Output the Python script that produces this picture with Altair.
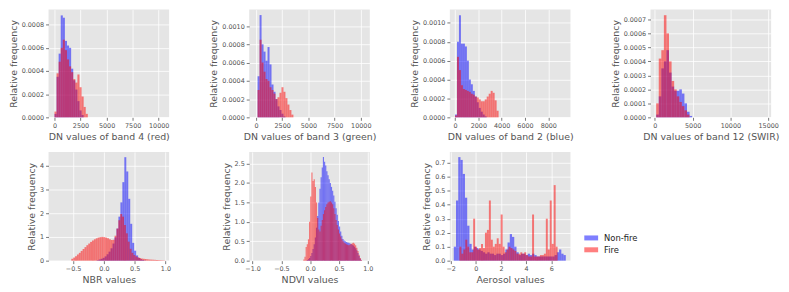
import altair as alt
import pandas as pd

SERIES = ["Non-fire", "Fire"]
COLORS = ["#0000ff", "#ff0000"]

# ---- band 4 (red) ----
B4_START, B4_WIDTH = 0, 200
b4_nonfire = [0.00003, 0.00035, 0.00055, 0.00088, 0.00086, 0.00066, 0.00062, 0.00060,
              0.00042, 0.00032, 0.00024, 0.00014, 0.00006, 0.00002]
b4_fire = [0.00005, 0.00038, 0.00048, 0.00060, 0.00067, 0.00058, 0.00050, 0.00044,
           0.00039, 0.00033, 0.00030, 0.00037, 0.00026, 0.00018, 0.00009, 0.00003]

# ---- band 3 (green) ----
B3_START, B3_WIDTH = 150, 190
b3_nonfire = [0.00045, 0.00112, 0.00080, 0.00072, 0.00062, 0.00077, 0.00058, 0.00036,
              0.00028, 0.00020, 0.00012, 0.00008, 0.00004, 0.00001]
b3_fire = [0.00030, 0.00085, 0.00060, 0.00050, 0.00042, 0.00040, 0.00033, 0.00030,
           0.00026, 0.00020, 0.00022, 0.00027, 0.00033, 0.00028, 0.00021, 0.00014,
           0.00008, 0.00003]

# ---- band 2 (blue) ----
B2_START, B2_WIDTH = 0, 170
b2_nonfire = [0.00003, 0.00080, 0.00108, 0.00078, 0.00078, 0.00075, 0.00060, 0.00040,
              0.00035, 0.00028, 0.00022, 0.00016, 0.00010, 0.00006, 0.00003, 0.00001]
b2_fire = [0.00002, 0.00064, 0.00050, 0.00034, 0.00030, 0.00029, 0.00028, 0.00027,
           0.00025, 0.00024, 0.00022, 0.00021, 0.00019, 0.00017, 0.00017, 0.00019,
           0.00022, 0.00025, 0.00028, 0.00026, 0.00018, 0.00007]

# ---- band 12 (SWIR) ----
B12_START, B12_WIDTH = 170, 340
b12_nonfire = [0.00002, 0.00015, 0.00035, 0.00040, 0.00048, 0.00032, 0.00022, 0.00019,
               0.00019, 0.00020, 0.00017, 0.00010, 0.00004, 0.00001]
b12_fire = [0.00010, 0.00042, 0.00048, 0.00073, 0.00060, 0.00040, 0.00026, 0.00020,
            0.00015, 0.00011, 0.00008, 0.00005, 0.00002]

# ---- NBR ----
NBR_NF_START, NBR_NF_WIDTH = -0.116, 0.032
nbr_nonfire = [0.02, 0.05, 0.08, 0.12, 0.18, 0.27, 0.38, 0.52, 0.72, 0.98, 1.35, 1.85,
               2.45, 3.3, 4.35, 3.75, 2.6, 1.55, 0.75, 0.42, 0.22, 0.12, 0.06, 0.03, 0.01]
NBR_F_START, NBR_F_WIDTH = -0.53, 0.0306
nbr_fire = [0.08, 0.13, 0.19, 0.26, 0.33, 0.41, 0.49, 0.57, 0.65, 0.72, 0.79, 0.85,
            0.90, 0.94, 0.97, 0.99, 1.00, 0.99, 0.97, 0.94, 0.90, 0.87, 0.88, 1.05,
            1.35, 1.70, 1.96, 1.85, 1.50, 1.15, 0.80, 0.50, 0.33, 0.24, 0.18, 0.14,
            0.11, 0.09, 0.08, 0.07, 0.06, 0.05, 0.045, 0.04, 0.035, 0.03, 0.025, 0.02,
            0.015, 0.01]

# ---- NDVI ----
NDVI_NF_START, NDVI_NF_WIDTH = -0.06, 0.02
ndvi_nonfire = [0.02, 0.04, 0.07, 0.12, 0.20, 0.30, 0.42, 0.60, 0.85, 1.15, 1.50, 1.85,
                2.15, 2.40, 2.67, 2.55, 2.45, 2.30, 2.20, 2.10, 2.00, 1.90, 1.80, 1.68,
                1.52, 1.35, 1.18, 1.02, 0.88, 0.75, 0.64, 0.56, 0.52, 0.50, 0.48, 0.47,
                0.46, 0.45, 0.43, 0.41, 0.39, 0.36, 0.32, 0.27, 0.20, 0.12, 0.05, 0.01]
NDVI_F_START, NDVI_F_WIDTH = -0.12, 0.02
ndvi_fire = [0.03, 0.10, 0.35, 0.42, 0.55, 1.00, 1.65, 2.27, 2.05, 2.10, 1.90, 1.50,
             1.10, 0.80, 0.75, 0.90, 1.05, 1.20, 1.30, 1.38, 1.45, 1.50, 1.52, 1.53,
             1.50, 1.45, 1.35, 1.20, 1.05, 0.92, 0.80, 0.70, 0.62, 0.55, 0.50, 0.46,
             0.44, 0.42, 0.41, 0.40, 0.41, 0.43, 0.45, 0.46, 0.44, 0.40, 0.33, 0.25,
             0.15, 0.07, 0.02]

# ---- Aerosol ----
AER_NF_START, AER_NF_WIDTH = -1.75, 0.178
aer_nonfire = [0.10, 0.43, 0.74, 0.72, 0.62, 0.45, 0.25, 0.12, 0.08, 0.10, 0.09, 0.08,
               0.07, 0.06, 0.05, 0.06, 0.05, 0.05, 0.04, 0.05, 0.05, 0.04, 0.05, 0.08,
               0.13, 0.19, 0.17, 0.10, 0.06, 0.04, 0.05, 0.05, 0.04, 0.05, 0.04, 0.05,
               0.04, 0.03, 0.03, 0.03, 0.03, 0.03, 0.03, 0.03, 0.03, 0.04, 0.06, 0.08,
               0.05, 0.04]
AER_F_START, AER_F_WIDTH = -1.3, 0.156
aer_fire = [0.10, 0.05, 0.08, 0.15, 0.10, 0.06, 0.06, 0.30, 0.10, 0.08, 0.09, 0.12,
            0.09, 0.20, 0.22, 0.43, 0.15, 0.10, 0.12, 0.16, 0.12, 0.33, 0.10, 0.06,
            0.08, 0.10, 0.09, 0.08, 0.07, 0.05, 0.05, 0.06, 0.05, 0.06, 0.04, 0.03,
            0.03, 0.33, 0.03, 0.03, 0.03, 0.04, 0.04, 0.05, 0.30, 0.08, 0.43, 0.12,
            0.54, 0.10]

PANELS = [
    dict(title="DN values of band 4 (red)",
         nf=(B4_START, B4_WIDTH, b4_nonfire), f=(B4_START, B4_WIDTH, b4_fire),
         xdom=[-570, 11000], xticks=[0, 2500, 5000, 7500, 10000], xfmt="d",
         ydom=[0, 0.00093], yticks=[0, 0.0002, 0.0004, 0.0006, 0.0008], yfmt=".4f", h=109),
    dict(title="DN values of band 3 (green)",
         nf=(B3_START, B3_WIDTH, b3_nonfire), f=(B3_START, B3_WIDTH, b3_fire),
         xdom=[-650, 10860], xticks=[0, 2500, 5000, 7500, 10000], xfmt="d",
         ydom=[0, 0.00118], yticks=[0, 0.0002, 0.0004, 0.0006, 0.0008, 0.0010], yfmt=".4f", h=109),
    dict(title="DN values of band 2 (blue)",
         nf=(B2_START, B2_WIDTH, b2_nonfire), f=(B2_START, B2_WIDTH, b2_fire),
         xdom=[-440, 9900], xticks=[0, 2000, 4000, 6000, 8000], xfmt="d",
         ydom=[0, 0.00114], yticks=[0, 0.0002, 0.0004, 0.0006, 0.0008, 0.0010], yfmt=".4f", h=109),
    dict(title="DN values of band 12 (SWIR)",
         nf=(B12_START, B12_WIDTH, b12_nonfire), f=(B12_START, B12_WIDTH, b12_fire),
         xdom=[-580, 15390], xticks=[0, 5000, 10000, 15000], xfmt="d",
         ydom=[0, 0.00077], yticks=[0, 0.0001, 0.0002, 0.0003, 0.0004, 0.0005, 0.0006, 0.0007],
         yfmt=".4f", h=109),
    dict(title="NBR values",
         nf=(NBR_NF_START, NBR_NF_WIDTH, nbr_nonfire), f=(NBR_F_START, NBR_F_WIDTH, nbr_fire),
         xdom=[-0.90, 1.06], xticks=[-0.5, 0.0, 0.5, 1.0], xfmt=".1f",
         ydom=[0, 4.57], yticks=[0, 1, 2, 3, 4], yfmt="d", h=110),
    dict(title="NDVI values",
         nf=(NDVI_NF_START, NDVI_NF_WIDTH, ndvi_nonfire), f=(NDVI_F_START, NDVI_F_WIDTH, ndvi_fire),
         xdom=[-1.06, 1.035], xticks=[-1.0, -0.5, 0.0, 0.5, 1.0], xfmt=".1f",
         ydom=[0, 2.80], yticks=[0, 0.5, 1.0, 1.5, 2.0, 2.5], yfmt=".1f", h=110),
    dict(title="Aerosol values",
         nf=(AER_NF_START, AER_NF_WIDTH, aer_nonfire), f=(AER_F_START, AER_F_WIDTH, aer_fire),
         xdom=[-2.06, 7.52], xticks=[-2, 0, 2, 4, 6], xfmt="d",
         ydom=[0, 0.777], yticks=[0, 0.1, 0.2, 0.3, 0.4, 0.5, 0.6, 0.7], yfmt=".1f", h=110),
]

PANEL_W = 122
GRAY = "#E5E5E5"
TXT = "#555555"


def bins_frame(series, start, width, heights):
    return pd.DataFrame({
        "series": series,
        "x0": [start + i * width for i in range(len(heights))],
        "x1": [start + (i + 1) * width for i in range(len(heights))],
        "h": heights,
    })


def make_panel(p):
    layers = []
    for s, key in zip(SERIES, ["nf", "f"]):
        start, width, heights = p[key]
        df = bins_frame(s, start, width, heights)
        layers.append(
            alt.Chart(df).mark_rect(opacity=0.5, strokeWidth=0).encode(
                x=alt.X("x0:Q", scale=alt.Scale(domain=p["xdom"], nice=False, zero=False),
                        axis=alt.Axis(values=p["xticks"], format=p["xfmt"], title=p["title"])),
                x2="x1:Q",
                y=alt.Y("h:Q", scale=alt.Scale(domain=p["ydom"], nice=False),
                        axis=alt.Axis(values=p["yticks"], format=p["yfmt"],
                                      title="Relative frequency")),
                y2=alt.datum(0),
                color=alt.Color("series:N", scale=alt.Scale(domain=SERIES, range=COLORS),
                                legend=None),
            )
        )
    return alt.layer(*layers).properties(
        width=PANEL_W, height=p["h"], view=alt.ViewBackground(fill=GRAY, strokeWidth=0)
    )


cells = [make_panel(p) for p in PANELS]

legend_df = pd.DataFrame({"series": SERIES})
legend_cell = alt.Chart(legend_df).mark_rect(opacity=0).encode(
    color=alt.Color(
        "series:N",
        scale=alt.Scale(domain=SERIES, range=COLORS),
        legend=alt.Legend(
            title=None, orient="none", legendX=-67, legendY=80,
            symbolType="M-1,-0.36H1V0.36H-1Z", symbolSize=196, symbolOpacity=0.5,
            symbolStrokeWidth=0, labelFontSize=8.5, labelColor="#222222",
            labelOffset=6, rowPadding=-2, padding=0,
        ),
    )
).properties(width=PANEL_W, height=110)

cells.append(legend_cell)

chart = alt.concat(
    *cells, columns=4, spacing={"row": 35, "column": 81}, bounds="flush"
).resolve_scale(color="independent").resolve_legend(color="independent").properties(
    padding={"left": 0, "top": 0, "right": 2, "bottom": 0}
).configure(font="DejaVu Sans").configure_view(strokeWidth=0).configure_axis(
    grid=True, gridColor="white", gridWidth=0.8, domain=False,
    tickColor=TXT, tickSize=3, tickWidth=0.8,
    labelColor=TXT, labelFontSize=6.5, labelPadding=2,
    labelFlush=False, labelOverlap=False,
    titleColor=TXT, titleFontSize=9.5, titleFontWeight="normal", titlePadding=3,
)

chart.save("out.html", embed_options={"renderer": "svg", "actions": False})
